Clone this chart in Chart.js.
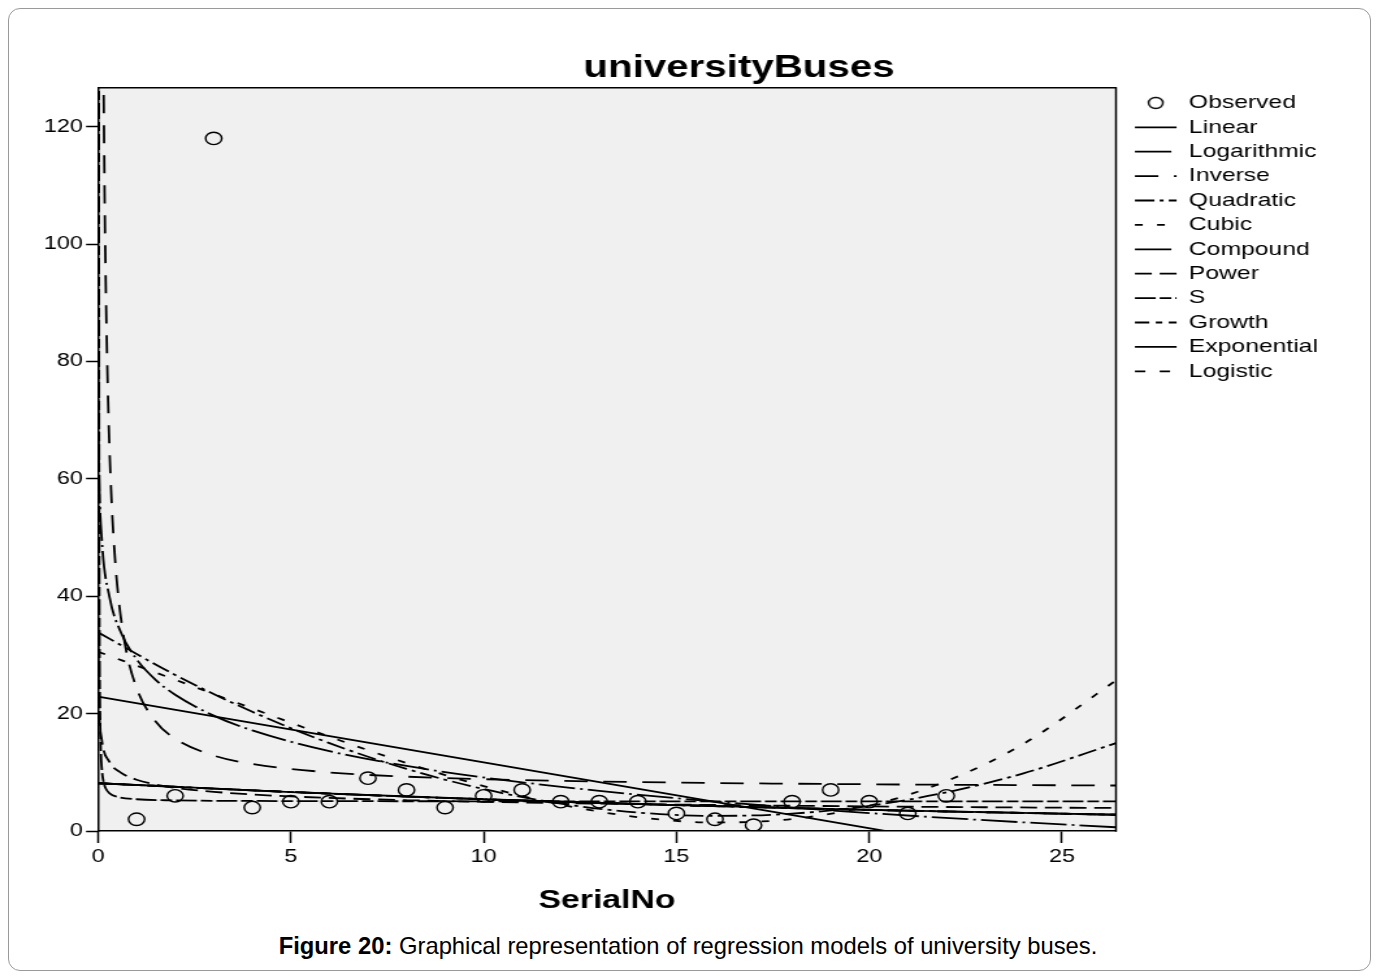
<!DOCTYPE html>
<html>
<head>
<meta charset="utf-8">
<script src="https://cdn.jsdelivr.net/npm/chart.js@4.4.1/dist/chart.umd.min.js"></script>
<style>
html,body{margin:0;padding:0;background:#fff;width:1376px;height:980px;overflow:hidden;}
#frame{position:absolute;left:8px;top:8px;width:1363px;height:963px;border:1px solid #9a9a9a;border-radius:12px;box-sizing:border-box;}
#wrap{position:absolute;left:0;top:0;width:1376px;height:925px;overflow:hidden;}
#c{position:absolute;left:0;top:0;}
#caption{position:absolute;left:0;top:932px;width:1376px;text-align:center;font:23.8px 'Liberation Sans',Arial,sans-serif;color:#000;}
</style>
</head>
<body>
<div id="frame"></div>
<div id="wrap"><canvas id="c" width="1137" height="920" style="width:1478px;height:920px;"></canvas></div>
<div id="caption"><b>Figure 20:</b> Graphical representation of regression models of university buses.</div>
<script>
// ---- data ----
const observedX = [1,2,3,4,5,6,7,8,9,10,11,12,13,14,15,16,17,18,19,20,21,22];
const observedY = [2,6,118,4,5,5,9,7,4,6,7,5,5,5,3,2,1,5,7,5,3,6];

const linearX = [0, 26.4];
const linearY = [22.88, -6.70];

const logX = [0.003,0.01,0.03,0.1,0.3,0.6,1,1.5,2,3,4,6,8,10,13,16,20,23,26.4];
const logY = [80.09,69.56,59.95,49.41,39.80,33.74,29.27,25.72,23.21,19.66,17.14,13.60,11.08,9.13,6.83,5.02,3.06,1.84,0.64];

const inverseX = [0.14,0.17,0.2,0.25,0.3,0.35,0.4,0.5,0.7,1,1.5,2,3,4,6,8,10,13,16,20,23,26.4];
const inverseY = [130.5,108.75,93.5,76.22,64.7,56.47,50.3,41.66,31.79,24.38,18.62,15.74,12.86,11.42,9.98,9.26,8.83,8.43,8.18,7.96,7.85,7.75];

const quadX = [0,2,4,6,8,10,12,14,16,18,20,22,24,26.4];
const quadY = [33.85,26.60,20.31,14.97,10.58,7.15,4.67,3.15,2.57,2.96,4.29,6.58,9.82,14.97];

const cubicX = [0,2,4,6,8,10,12,14,16,18,20,22,24,26.4];
const cubicY = [30.55,25.78,20.88,16.07,11.58,7.65,4.50,2.36,1.45,2.03,4.29,8.49,14.84,25.65];

const compoundX = [0,5,10,15,20,26.4];
const compoundY = [8.14,6.64,5.41,4.41,3.60,2.77];

const powerX = [0.003,0.01,0.03,0.1,0.3,0.6,1,1.5,2,3,4,6,8,10,13,16,20,23,26.4];
const powerY = [36.36,27.06,20.67,15.38,11.75,9.91,8.74,7.91,7.37,6.68,6.22,5.63,5.25,4.97,4.66,4.43,4.19,4.05,3.92];

const sX = [0.022,0.025,0.03,0.04,0.05,0.07,0.1,0.15,0.2,0.3,0.5,1,2,4,8,13,20,26.4];
const sY = [139.9,93.9,57.6,31.3,21.7,14.3,10.45,8.19,7.25,6.42,5.82,5.41,5.22,5.12,5.07,5.06,5.05,5.04];

const growthX = [0,5,10,15,20,26.4];
const growthY = [8.14,6.64,5.41,4.41,3.60,2.77];

const expX = [0,5,10,15,20,26.4];
const expY = [8.14,6.64,5.41,4.41,3.60,2.77];

const logisticX = [0,5,10,15,20,26.4];
const logisticY = [8.14,6.64,5.41,4.41,3.60,2.77];

const xTickStep = 5, xMin = 0, xMax = 26.4;
const yTickStep = 20, yMin = 0, yMax = 126.6;
// ---------------------------------------

const FONT_FAMILY = "'Liberation Sans', Arial, sans-serif";
Chart.defaults.font.family = FONT_FAMILY;
Chart.defaults.color = '#000';

function pts(xs, ys) { return xs.map((x, i) => ({x: x, y: ys[i]})); }

function curve(label, xs, ys, dash) {
  return {
    type: 'line', label: label, data: pts(xs, ys),
    borderColor: '#000', backgroundColor: 'rgba(0,0,0,0)',
    borderWidth: 1.8, borderDash: dash,
    pointRadius: 0, pointHoverRadius: 0, fill: false,
    cubicInterpolationMode: 'monotone'
  };
}

const circleImg = document.createElement('canvas');
circleImg.width = 16; circleImg.height = 16;
(function () {
  const cc = circleImg.getContext('2d');
  cc.strokeStyle = '#000'; cc.lineWidth = 1.4;
  cc.beginPath(); cc.arc(8, 8, 5.5, 0, Math.PI * 2); cc.stroke();
})();

// plot-area background and right-hand frame line
const plotFrame = {
  id: 'plotFrame',
  beforeDraw(chart) {
    const {ctx, chartArea: a} = chart;
    ctx.save();
    ctx.fillStyle = '#f0f0f0';
    ctx.fillRect(a.left, a.top, a.right - a.left, a.bottom - a.top);
    ctx.restore();
  },
  afterDraw(chart) {
    const {ctx, chartArea: a} = chart;
    ctx.save();
    ctx.strokeStyle = '#000';
    ctx.lineWidth = 1.5;
    ctx.beginPath();
    ctx.moveTo(a.right, a.top - 0.75);
    ctx.lineTo(a.right, a.bottom + 0.75);
    ctx.stroke();
    ctx.restore();
  }
};

const datasets = [
  {
    type: 'line', label: 'Observed', data: pts(observedX, observedY),
    showLine: false, pointStyle: 'circle', pointRadius: 6.2, pointHoverRadius: 6.2,
    pointBorderWidth: 1.4, pointBorderColor: '#000',
    pointBackgroundColor: 'rgba(0,0,0,0)', borderColor: '#000', borderWidth: 1.4
  },
  curve('Linear', linearX, linearY, []),
  curve('Logarithmic', logX, logY, [28, 4, 2, 4]),
  curve('Inverse', inverseX, inverseY, [18, 12]),
  curve('Quadratic', quadX, quadY, [15, 4, 3, 4]),
  curve('Cubic', cubicX, cubicY, [6, 11]),
  curve('Compound', compoundX, compoundY, [28, 4, 2, 4]),
  curve('Power', powerX, powerY, [13, 6]),
  curve('S', sX, sY, [16, 3, 9, 3]),
  curve('Growth', growthX, growthY, [11, 5, 5, 5]),
  curve('Exponential', expX, expY, []),
  curve('Logistic', logisticX, logisticY, [8, 11])
];

// legend geometry (canvas px; the canvas is stretched 1.3x horizontally by CSS)
const LEG_FONT = 19, LEG_PAD = 5.4, LEG_BOX = 32;
const CANVAS_W = 1137, PLOT_RIGHT = 858.5, GAP_AXIS_W = 9.2;
const mctx = document.createElement('canvas').getContext('2d');
mctx.font = LEG_FONT + 'px ' + FONT_FAMILY;
const maxLabelW = Math.max(...datasets.map(d => mctx.measureText(d.label).width));
const legendW = LEG_PAD + LEG_BOX + LEG_FONT / 2 + maxLabelW + 10;
const rightPadW = Math.max(0, CANVAS_W - PLOT_RIGHT - GAP_AXIS_W - legendW);

new Chart(document.getElementById('c'), {
  type: 'line',
  data: {datasets: datasets},
  plugins: [plotFrame],
  options: {
    responsive: false,
    devicePixelRatio: 1,
    animation: false,
    events: [],
    layout: {padding: 0},
    plugins: {
      tooltip: {enabled: false},
      title: {
        display: true, text: 'universityBuses', color: '#000',
        font: {size: 31, weight: 'bold'}, padding: {top: 50, bottom: 0.8}
      },
      legend: {
        display: true, position: 'right', align: 'start', fullSize: false,
        labels: {
          usePointStyle: true, pointStyleWidth: LEG_BOX, boxHeight: LEG_FONT, padding: LEG_PAD,
          font: {size: LEG_FONT}, color: '#000',
          generateLabels(chart) {
            return chart.data.datasets.map((ds, i) => ({
              text: ds.label, datasetIndex: i, hidden: false, fontColor: '#000',
              strokeStyle: '#000', fillStyle: 'rgba(0,0,0,0)',
              lineWidth: i === 0 ? 1 : 1.8, lineDash: ds.borderDash || [], lineCap: 'butt',
              pointStyle: i === 0 ? circleImg : 'line'
            }));
          }
        }
      }
    },
    scales: {
      x: {
        type: 'linear', position: 'bottom', min: xMin, max: xMax,
        afterFit(s) { s.height = 89; },
        ticks: {stepSize: xTickStep, includeBounds: false, font: {size: 18}, color: '#000', padding: 3, maxRotation: 0},
        grid: {display: true, drawOnChartArea: false, drawTicks: true, tickLength: 12, tickColor: '#000', tickWidth: 1.5},
        border: {display: true, color: '#000', width: 1.5},
        title: {display: true, text: 'SerialNo', color: '#000', font: {size: 26, weight: 'bold'}, padding: {top: 0, bottom: 4}}
      },
      y: {
        type: 'linear', position: 'left', min: yMin, max: yMax,
        afterFit(s) { s.width = 75.4; },
        ticks: {stepSize: yTickStep, includeBounds: false, font: {size: 18}, color: '#000', padding: 2.4},
        grid: {display: true, drawOnChartArea: false, drawTicks: true, tickLength: 9.2, tickColor: '#000', tickWidth: 1.5},
        border: {display: true, color: '#000', width: 1.5}
      },
      x2: {
        type: 'linear', axis: 'x', position: 'top',
        afterFit(s) { s.height = 0; },
        ticks: {display: false},
        grid: {display: true, drawOnChartArea: false, drawTicks: false},
        border: {display: true, color: '#000', width: 1.5}
      },
      gap: {
        type: 'linear', axis: 'y', position: 'right', display: false,
        afterFit(s) { s.width = GAP_AXIS_W; }
      },
      rpad: {
        type: 'linear', axis: 'y', position: 'right', weight: 2000, display: false,
        afterFit(s) { s.width = rightPadW; }
      }
    }
  }
});
</script>
</body>
</html>
